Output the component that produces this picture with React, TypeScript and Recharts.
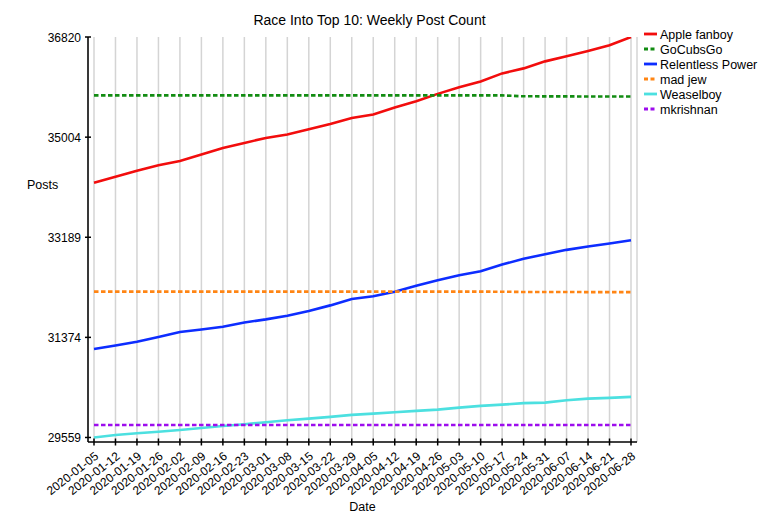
import React from "react";
import { LineChart, Line, XAxis, YAxis, CartesianGrid } from "recharts";

const dates = [
  "2020-01-05", "2020-01-12", "2020-01-19", "2020-01-26", "2020-02-02", "2020-02-09",
  "2020-02-16", "2020-02-23", "2020-03-01", "2020-03-08", "2020-03-15", "2020-03-22",
  "2020-03-29", "2020-04-05", "2020-04-12", "2020-04-19", "2020-04-26", "2020-05-03",
  "2020-05-10", "2020-05-17", "2020-05-24", "2020-05-31", "2020-06-07", "2020-06-14",
  "2020-06-21", "2020-06-28",
];

const appleFanboy = [
  34179, 34288, 34397, 34493, 34572, 34688, 34808, 34899, 34990, 35051, 35148, 35244, 35353,
  35415, 35542, 35657, 35789, 35911, 36015, 36160, 36251, 36378, 36469, 36565, 36669, 36820,
];
const goCubsGo = [
  35762, 35762, 35762, 35762, 35762, 35762, 35762, 35762, 35762, 35762, 35762, 35762, 35762,
  35762, 35762, 35762, 35762, 35762, 35762, 35761, 35745, 35744, 35743, 35742, 35741, 35740,
];
const relentlessPower = [
  31162, 31227, 31295, 31380, 31471, 31518, 31567, 31645, 31700, 31767, 31853, 31954, 32071,
  32118, 32203, 32312, 32409, 32500, 32572, 32694, 32798, 32881, 32961, 33021, 33076, 33136,
];
const madJew = [
  32203, 32203, 32203, 32203, 32203, 32203, 32203, 32203, 32203, 32203, 32203, 32203, 32203,
  32203, 32203, 32203, 32203, 32203, 32203, 32202, 32197, 32196, 32196, 32195, 32195, 32194,
];
const weaselboy = [
  29559, 29604, 29635, 29664, 29695, 29732, 29768, 29799, 29835, 29872, 29901, 29932, 29968,
  29992, 30017, 30041, 30064, 30101, 30132, 30155, 30181, 30191, 30235, 30264, 30277, 30295,
];
const mkrishnan = [
  29786, 29786, 29786, 29786, 29786, 29786, 29786, 29786, 29786, 29786, 29786, 29786, 29786,
  29786, 29786, 29786, 29786, 29786, 29786, 29786, 29786, 29786, 29786, 29786, 29786, 29786,
];

const yTicks = [29559, 31374, 33189, 35004, 36820];

const series = [
  { key: "Apple fanboy", values: appleFanboy, color: "#f20d0d", dashed: false },
  { key: "GoCubsGo", values: goCubsGo, color: "#128c12", dashed: true },
  { key: "Relentless Power", values: relentlessPower, color: "#0d2dff", dashed: false },
  { key: "mad jew", values: madJew, color: "#ff8514", dashed: true },
  { key: "Weaselboy", values: weaselboy, color: "#4ce0e0", dashed: false },
  { key: "mkrishnan", values: mkrishnan, color: "#9d0ded", dashed: true },
];

const data = dates.map((d, i) => {
  const row: Record<string, any> = { date: d };
  series.forEach((s) => (row[s.key] = s.values[i]));
  return row;
});

const FONT = "'Liberation Sans', Arial, Helvetica, sans-serif";
const DASH = "4.5 2.5";

const XTick = ({ x, y, payload }: any) => (
  <g>
    <line x1={x} x2={x} y1={y - 3.5} y2={y + 3.5} stroke="#000" strokeWidth={1.5} />
    <text
      transform={`translate(${x},${y + 9}) rotate(-38)`}
      y={8.5}
      textAnchor="end"
      fontSize={12}
      fontFamily={FONT}
      fill="#000"
    >
      {payload.value}
    </text>
  </g>
);

const YTick = ({ x, y, payload }: any) => (
  <g>
    <line x1={x - 3} x2={x + 3} y1={y} y2={y} stroke="#000" strokeWidth={1.5} />
    <text x={x - 7} y={y + 4.5} textAnchor="end" fontSize={12} fontFamily={FONT} fill="#000">
      {payload.value}
    </text>
  </g>
);

export default function App() {
  return (
    <div style={{ position: "absolute", left: 0, top: 0, width: 775, height: 525, background: "#fff", fontFamily: FONT }}>
      <div
        style={{
          position: "absolute",
          left: 0,
          top: 11,
          width: 739,
          textAlign: "center",
          fontSize: 14,
          lineHeight: "18px",
          color: "#000",
        }}
      >
        Race Into Top 10: Weekly Post Count
      </div>
      <div style={{ position: "absolute", left: 27, top: 177, fontSize: 12.5, lineHeight: "16px", color: "#000" }}>
        Posts
      </div>
      <LineChart
        width={775}
        height={525}
        data={data}
        margin={{ top: 37, right: 138, left: 8, bottom: 23 }}
      >
        <CartesianGrid horizontal={false} stroke="#d4d4d4" strokeWidth={1.5} />
        <XAxis
          dataKey="date"
          interval={0}
          padding={{ left: 6, right: 6 }}
          height={60}
          tickSize={0}
          tickMargin={0}
          tickLine={false}
          tick={<XTick />}
          axisLine={{ stroke: "#000", strokeWidth: 1.5 }}
          label={{ value: "Date", position: "insideBottom", offset: -9, fontSize: 12.5, fill: "#000", fontFamily: FONT }}
        />
        <YAxis
          type="number"
          domain={[29477, 36820]}
          ticks={yTicks}
          width={80}
          tickSize={0}
          tickMargin={0}
          tickLine={false}
          tick={<YTick />}
          axisLine={{ stroke: "#000", strokeWidth: 1.5 }}
          allowDataOverflow
        />
        {series.map((s) => (
          <Line
            key={s.key}
            type="linear"
            dataKey={s.key}
            stroke={s.color}
            strokeWidth={2.6}
            strokeDasharray={s.dashed ? DASH : undefined}
            dot={false}
            activeDot={false}
            isAnimationActive={false}
          />
        ))}
      </LineChart>
      <svg style={{ position: "absolute", left: 640, top: 24 }} width={135} height={100}>
        {series.map((s, i) => (
          <g key={s.key}>
            <line
              x1={4}
              x2={17}
              y1={10 + i * 15}
              y2={10 + i * 15}
              stroke={s.color}
              strokeWidth={2.8}
              strokeDasharray={s.dashed ? "4 2.5" : undefined}
            />
            <text x={20} y={14.5 + i * 15} fontSize={12.5} fontFamily={FONT} fill="#000">
              {s.key}
            </text>
          </g>
        ))}
      </svg>
    </div>
  );
}
